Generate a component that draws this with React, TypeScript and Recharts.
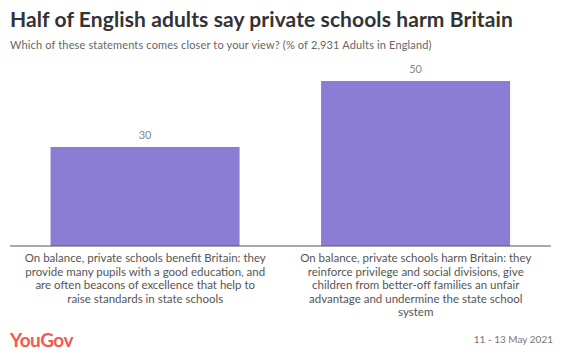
import { BarChart, Bar, XAxis, YAxis, LabelList } from 'recharts';

const categories = [
  'On balance, private schools benefit Britain: they\nprovide many pupils with a good education, and\nare often beacons of excellence that help to\nraise standards in state schools',
  'On balance, private schools harm Britain: they\nreinforce privilege and social divisions, give\nchildren from better-off families an unfair\nadvantage and undermine the state school\nsystem',
];
const shares = [30, 50];

const data = categories.map((name, i) => ({ name, value: shares[i] }));

const font = 'Lato, "Open Sans", sans-serif';

interface TickProps {
  x?: number;
  y?: number;
  payload?: { value: string };
}

function WrappedTick({ x = 0, y = 0, payload }: TickProps) {
  const lines = (payload?.value ?? '').split('\n');
  return (
    <text x={x} y={y} textAnchor="middle" fill="#555" fontSize={11.5} fontFamily={font}>
      {lines.map((l, i) => (
        <tspan key={i} x={x} dy={i === 0 ? 8 : 13.6}>
          {l}
        </tspan>
      ))}
    </text>
  );
}

export default function App() {
  return (
    <div style={{ position: 'relative', width: 563, height: 357, margin: -8, background: '#fff', fontFamily: font }}>
      <div style={{ position: 'absolute', left: 10, top: 6, fontSize: 21, fontWeight: 700, color: '#333', letterSpacing: 0.1 }}>
        Half of English adults say private schools harm Britain
      </div>
      <div style={{ position: 'absolute', left: 10, top: 38, fontSize: 11, color: '#666', letterSpacing: 0.15 }}>
        Which of these statements comes closer to your view? (% of 2,931 Adults in England)
      </div>
      <BarChart
        width={563}
        height={357}
        data={data}
        margin={{ top: 81, right: 12, left: 10, bottom: 0 }}
        barCategoryGap="15%"
      >
        <XAxis
          dataKey="name"
          tick={<WrappedTick />}
          tickLine={false}
          axisLine={{ stroke: '#555' }}
          interval={0}
          height={111}
        />
        <YAxis hide domain={[0, 50]} />
        <Bar dataKey="value" fill="#8a7dd3" isAnimationActive={false}>
          <LabelList dataKey="value" position="top" offset={8} fill="#888" fontSize={11} fontFamily={font} />
        </Bar>
      </BarChart>
      <div style={{ position: 'absolute', left: 10, top: 328, fontSize: 19, fontWeight: 700, color: '#f25a4f', letterSpacing: -0.5 }}>
        YouGov
      </div>
      <div style={{ position: 'absolute', right: 10, top: 333, fontSize: 10, color: '#777' }}>
        11 - 13 May 2021
      </div>
    </div>
  );
}
